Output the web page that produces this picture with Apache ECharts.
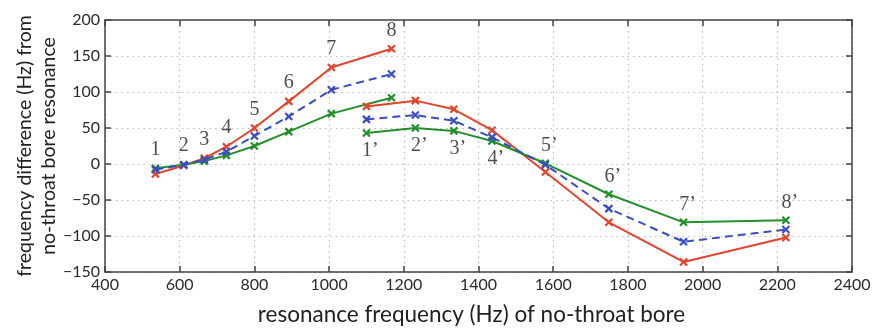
<!DOCTYPE html>
<html><head><meta charset="utf-8">
<script src="https://cdn.jsdelivr.net/npm/echarts@6/dist/echarts.min.js"></script>
<style>html,body{margin:0;padding:0;background:#fff}#c{width:878px;height:329px}</style>
</head><body><div id="c"></div>
<script>
// first set of resonances (1..8)
const freqA  = [535, 611, 666, 725, 800, 892, 1006, 1167];
const redA   = [-14, -2, 8, 24, 50, 87, 134, 160];
const blueA  = [-8, -1, 6, 17, 39, 66, 103, 125];
const greenA = [-6, -1, 4, 12, 25, 45, 70, 92];
const labelsA = ['1','2','3','4','5','6','7','8'];
// second set of resonances (1'..8')
const freqB  = [1100, 1231, 1334, 1436, 1579, 1749, 1949, 2223];
const redB   = [80, 88, 76, 47, -11, -81, -136, -102];
const blueB  = [62, 68, 60, 37, -1, -62, -108, -91];
const greenB = [43, 50, 46, 32, 1, -42, -81, -78];
const labelsB = ['1\u2019','2\u2019','3\u2019','4\u2019','5\u2019','6\u2019','7\u2019','8\u2019'];
const xTicks = [400, 600, 800, 1000, 1200, 1400, 1600, 1800, 2000, 2200, 2400];
const yTicks = [-150, -100, -50, 0, 50, 100, 150, 200];

const RED = '#e2452b', BLUE = '#3b4cc4', GREEN = '#23902a';
const X = 'path://M0,0L10,10M10,0L0,10';
const zip = (xs, ys) => xs.map((x, i) => [x, ys[i]]);

function lineSeries(xs, ys, color, dashed) {
  return {
    type: 'line', data: zip(xs, ys), symbol: X, symbolSize: 7,
    lineStyle: { color, width: 2, type: dashed ? [8, 5] : 'solid' },
    itemStyle: { color: 'none', borderColor: color, borderWidth: 2.2 },
    animation: false, z: dashed ? 3 : 2
  };
}
const labelFont = { fontFamily: 'Liberation Serif', fontSize: 20, color: '#222' };
const labelDataA = freqA.map((x, i) => ({
  value: [x, Math.max(redA[i], blueA[i], greenA[i])],
  label: { show: true, formatter: labelsA[i], position: 'top', distance: 8, ...labelFont }
}));
const labelDataB = freqB.map((x, i) => {
  const below = i < 4;
  return {
    value: [x, below ? Math.min(redB[i], blueB[i], greenB[i]) : Math.max(redB[i], blueB[i], greenB[i])],
    label: { show: true, formatter: labelsB[i], position: below ? 'bottom' : 'top', distance: 7,
             offset: [4, 0], ...labelFont }
  };
});

const axisLine = { show: true, onZero: false, lineStyle: { color: '#444', width: 1.5 } };
const tickStyle = { show: true, inside: true, length: 6, lineStyle: { color: '#444', width: 1.5 } };
const tickFont = { fontFamily: 'Lato', fontSize: 16, color: '#2a2a2a' };
const minus = v => String(v).replace('-', '\u2212');
const labelSeries = data => ({
  type: 'scatter', data, symbol: 'circle', symbolSize: 1,
  itemStyle: { color: 'rgba(0,0,0,0)' }, animation: false, z: 5, silent: true
});

const chart = echarts.init(document.getElementById('c'), null, { renderer: 'canvas' });
chart.setOption({
  backgroundColor: '#fff',
  animation: false,
  grid: { left: 105, right: 26, top: 20, bottom: 57, containLabel: false, outerBoundsMode: 'none' },
  xAxis: [{
    type: 'value', min: xTicks[0], max: xTicks[xTicks.length - 1], interval: 200,
    axisLine, axisTick: tickStyle,
    axisLabel: { ...tickFont, margin: 5, formatter: minus },
    splitLine: { show: true, lineStyle: { color: '#bbb', type: [1.5, 4], width: 1.2 } },
    name: 'resonance frequency (Hz) of no-throat bore', nameLocation: 'middle', nameGap: 31,
    nameTextStyle: { fontFamily: 'Lato', fontSize: 22.5, color: '#222', padding: [0, 14, 0, 0] }
  }, {
    type: 'value', position: 'top', min: xTicks[0], max: xTicks[xTicks.length - 1], interval: 200,
    axisLine, axisTick: tickStyle, axisLabel: { show: false }, splitLine: { show: false }
  }],
  yAxis: [{
    type: 'value', min: yTicks[0], max: yTicks[yTicks.length - 1], interval: 50,
    axisLine, axisTick: tickStyle,
    axisLabel: { ...tickFont, margin: 5, formatter: minus },
    splitLine: { show: true, lineStyle: { color: '#bbb', type: [1.5, 4], width: 1.2 } },
    name: 'frequency difference (Hz) from\nno-throat bore resonance', nameLocation: 'middle',
    nameGap: 44, nameMoveOverlap: false,
    nameTextStyle: { fontFamily: 'Lato', fontSize: 19.5, color: '#222', lineHeight: 24 }
  }, {
    type: 'value', position: 'right', min: yTicks[0], max: yTicks[yTicks.length - 1], interval: 50,
    axisLine, axisTick: tickStyle, axisLabel: { show: false }, splitLine: { show: false }
  }],
  series: [
    lineSeries(freqA, redA, RED, false),
    lineSeries(freqA, greenA, GREEN, false),
    lineSeries(freqA, blueA, BLUE, true),
    lineSeries(freqB, redB, RED, false),
    lineSeries(freqB, greenB, GREEN, false),
    lineSeries(freqB, blueB, BLUE, true),
    labelSeries(labelDataA),
    labelSeries(labelDataB)
  ]
});
</script></body></html>
